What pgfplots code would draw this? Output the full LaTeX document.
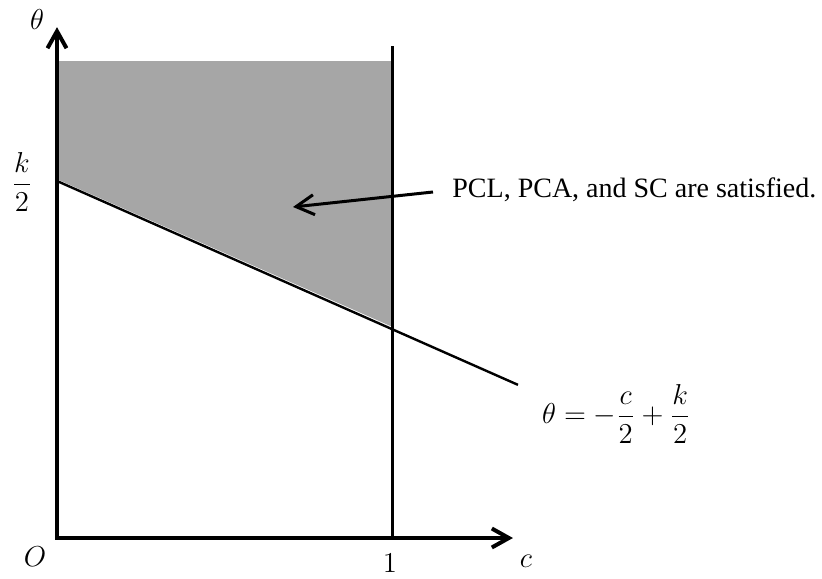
\documentclass[border=0pt]{standalone}
\usepackage{amsmath}
\usepackage{pgfplots}
\pgfplotsset{compat=1.18}
\usepackage{fontspec}
\setmainfont{Liberation Serif}
\usetikzlibrary{arrows.meta}
\definecolor{regiongray}{RGB}{166,166,166}

\begin{document}
\begin{tikzpicture}[x=0.5pt,y=0.5pt,font=\fontsize{13.5}{16}\selectfont]
\useasboundingbox (0,0) rectangle (822,578);
\begin{axis}[
  at={(28.5pt,20pt)}, anchor=south west,
  x=167.5pt, y=178.5pt,
  xmin=0, xmax=1.361, ymin=0, ymax=1.431,
  hide axis, clip=false,
]
  % region where all three conditions hold
  \addplot[fill=regiongray, draw=none]
    coordinates {(0,1.336) (1,1.336) (1,0.592) (0,1.005)} -- cycle;
  % boundary line theta = -c/2 + k/2
  \addplot[black, line width=1.2pt]
    coordinates {(0,1.0) (1.376,0.429)};
  % c = 1
  \addplot[black, line width=1.5pt]
    coordinates {(1,0) (1,1.378)};
  % axes
  \draw[line width=2pt,
        {Straight Barb[length=8.5pt,width=9.5pt]}-{Straight Barb[length=8.5pt,width=9.5pt]}]
    (axis cs:0,1.431) -- (axis cs:0,0) -- (axis cs:1.361,0);
\end{axis}

% axis labels
\node at (37,558) {$\theta$};
\node at (22,396) {$\dfrac{k}{2}$};
\node at (35,21) {$O$};
\node at (390,15) {$1$};
\node at (526,17) {$c$};

% line label
\node[anchor=west] at (535,164) {$\theta=-\dfrac{c}{2}+\dfrac{k}{2}$};

% annotation
\node[anchor=base west, inner sep=0pt, font=\fontsize{14}{16}\selectfont]
  at (452,380) {PCL, PCA, and SC are satisfied.};
\draw[line width=1.5pt, -{Straight Barb[length=9pt,width=10pt]}] (433,386) -- (293,371);
\end{tikzpicture}
\end{document}
